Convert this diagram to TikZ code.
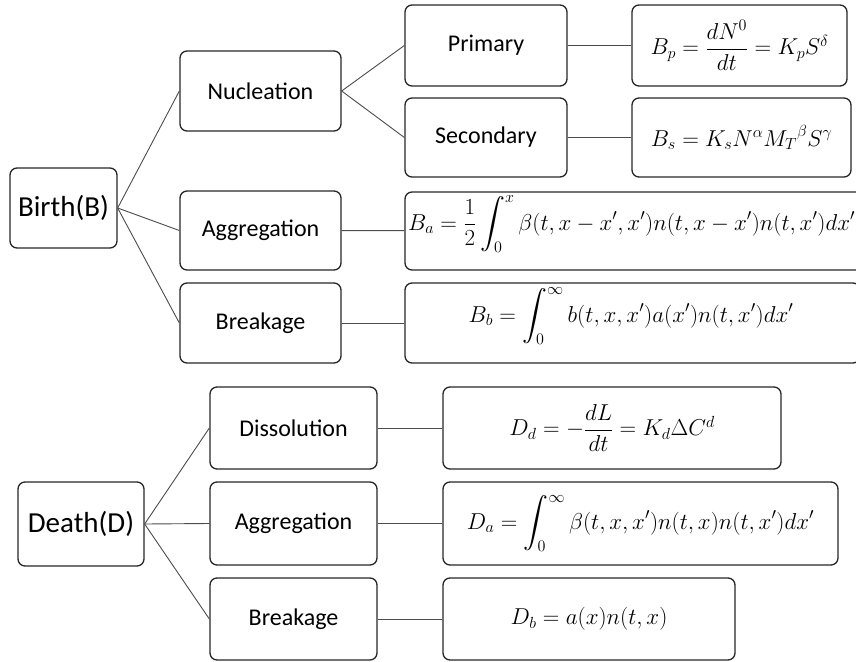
\RequirePackage{fix-cm}
\documentclass[tikz,border=0pt]{standalone}
\usepackage{amsmath}
\usepackage{fontspec}
\setmainfont{Carlito}

\begin{document}
\begin{tikzpicture}[x=1pt,y=-1pt,
	box/.style={draw=black!85,line width=1.3pt,rounded corners=7pt,inner sep=2pt},
	big/.style={font=\fontsize{29}{32}\selectfont},
	small/.style={font=\fontsize{24}{27}\selectfont},
	eq/.style={font=\fontsize{23}{27}\selectfont},
	link/.style={draw=black!70,line width=0.9pt}]
\useasboundingbox (0,0) rectangle (856,661);

% birth part
\node[box,big,minimum width=107pt,minimum height=80pt] (birth) at (63.5,208) {Birth(B)};
\node[box,small,minimum width=161pt,minimum height=80pt] (nuc) at (260.5,91) {Nucleation};
\node[box,small,minimum width=161pt,minimum height=79pt] (aggB) at (260.5,230.5) {Aggregation};
\node[box,small,minimum width=161pt,minimum height=80pt] (brkB) at (260.5,323) {Breakage};
\node[box,small,minimum width=162pt,minimum height=81pt] (prim) at (486,45.5) {Primary};
\node[box,small,minimum width=162pt,minimum height=79pt] (sec) at (486,137.5) {Secondary};

\node[box,eq,minimum width=215pt,minimum height=81pt] (Bp) at (739.5,45.5)
	{$B_p=\dfrac{dN^0}{dt}=K_pS^\delta$};
\node[box,eq,minimum width=219pt,minimum height=79pt] (Bs) at (741.5,137.5)
	{$B_s=K_sN^\alpha {M_T}^\beta S^\gamma$};
\node[box,minimum width=465pt,minimum height=78pt] (Ba) at (637.5,231) {};
\node[eq,anchor=base west,inner sep=0pt] (BaEq) at (408,230)
	{$B_a=\dfrac12\displaystyle\int_0^x\beta(t,x-x',x')n(t,x-x')n(t,x')dx'$};
\node[box,minimum width=455pt,minimum height=80pt] (Bb) at (632.5,323) {};
\node[eq,anchor=base,inner sep=0pt] (BbEq) at (631,322)
	{$B_b=\displaystyle\int_0^\infty b(t,x,x')a(x')n(t,x')dx'$};

\draw[link] (birth.east) -- (nuc.west);
\draw[link] (birth.east) -- (aggB.west);
\draw[link] (birth.east) -- (brkB.west);
\draw[link] (nuc.east) -- (prim.west);
\draw[link] (nuc.east) -- (sec.west);
\draw[link] (prim) -- (Bp);
\draw[link] (sec) -- (Bs);
\draw[link] (aggB) -- (Ba);
\draw[link] (brkB) -- (Bb);

% death part
\node[box,big,minimum width=126pt,minimum height=84pt] (death) at (81,524) {Death(D)};
\node[box,small,minimum width=167pt,minimum height=82pt] (dis) at (293.5,428) {Dissolution};
\node[box,small,minimum width=167pt,minimum height=83pt] (aggD) at (293.5,523.5) {Aggregation};
\node[box,small,minimum width=167pt,minimum height=82pt] (brkD) at (293.5,619) {Breakage};

\node[box,eq,minimum width=338pt,minimum height=82pt] (Dd) at (612,428)
	{$D_d=-\dfrac{dL}{dt}=K_d\Delta C^d$};
\node[box,eq,minimum width=395pt,minimum height=83pt] (Da) at (640.5,523.5)
	{$D_a=\displaystyle\int_0^\infty\beta(t,x,x')n(t,x)n(t,x')dx'$};
\node[box,eq,minimum width=292pt,minimum height=82pt] (Db) at (589,619)
	{$D_b=a(x)n(t,x)$};

\draw[link] (death.east) -- (dis.west);
\draw[link] (death.east) -- (aggD.west);
\draw[link] (death.east) -- (brkD.west);
\draw[link] (dis) -- (Dd);
\draw[link] (aggD) -- (Da);
\draw[link] (brkD) -- (Db);
\end{tikzpicture}
\end{document}
